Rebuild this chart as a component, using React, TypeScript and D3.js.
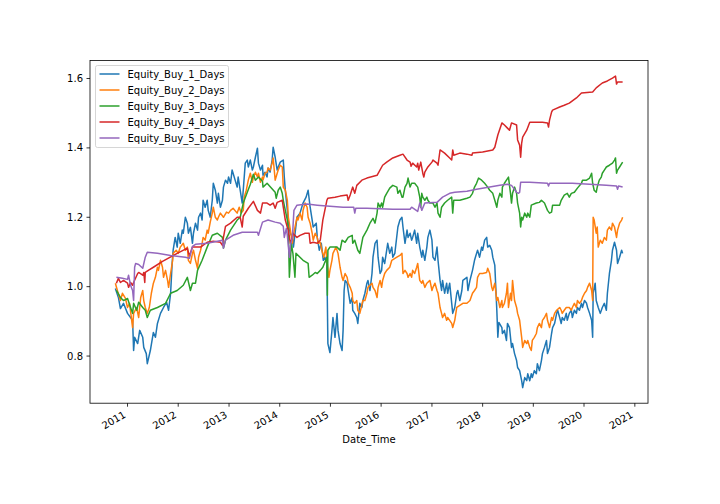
import React, { useEffect } from "react";
import * as d3 from "d3";

// [decimal year, equity]
const equityBuy1: [number, number][] = [
  [2010.76,0.995],[2010.82,0.969],[2010.86,0.937],[2010.92,0.952],[2011.00,0.923],[2011.06,0.911],[2011.10,0.903],[2011.12,0.816],[2011.14,0.854],[2011.20,0.836],[2011.24,0.874],[2011.30,0.854],[2011.32,0.825],[2011.37,0.807],[2011.39,0.778],[2011.45,0.816],[2011.51,0.868],[2011.55,0.854],[2011.59,0.894],[2011.65,0.923],[2011.71,0.940],[2011.77,0.955],[2011.81,0.932],
  [2011.85,0.981],[2011.88,1.067],[2011.90,1.105],[2011.94,1.142],[2011.98,1.114],[2012.00,1.154],[2012.04,1.125],[2012.08,1.163],[2012.10,1.154],[2012.14,1.200],[2012.18,1.183],[2012.20,1.154],[2012.24,1.171],[2012.28,1.125],[2012.30,1.154],[2012.34,1.183],[2012.38,1.163],[2012.40,1.200],[2012.44,1.212],[2012.47,1.192],[2012.49,1.249],[2012.53,1.229],[2012.57,1.249],[2012.59,1.220],[2012.63,1.200],[2012.67,1.249],[2012.69,1.298],[2012.73,1.278],[2012.77,1.241],[2012.79,1.269],[2012.83,1.229],[2012.87,1.249],[2012.89,1.287],[2012.93,1.307],[2012.97,1.298],[2012.99,1.316],[2013.03,1.298],[2013.06,1.336],[2013.08,1.327],[2013.12,1.307],[2013.16,1.287],[2013.18,1.316],
  [2013.22,1.278],[2013.26,1.241],[2013.28,1.278],[2013.32,1.356],[2013.36,1.365],[2013.38,1.345],[2013.42,1.365],[2013.46,1.336],[2013.48,1.345],[2013.52,1.373],[2013.56,1.399],[2013.58,1.356],[2013.62,1.336],[2013.66,1.350],[2013.67,1.321],[2013.71,1.330],[2013.75,1.316],[2013.77,1.342],[2013.81,1.330],[2013.85,1.365],[2013.87,1.402],[2013.91,1.373],[2013.95,1.336],[2013.97,1.345],[2014.01,1.359],[2014.07,1.365],[2014.09,1.316],[2014.11,1.278],[2014.15,1.220],[2014.17,1.183],[2014.21,1.154],[2014.25,1.142],[2014.27,1.114],[2014.34,1.200],[2014.40,1.212],[2014.46,1.241],[2014.52,1.258],[2014.56,1.278],[2014.60,1.229],[2014.64,1.192],[2014.66,1.172],[2014.72,1.183],[2014.74,1.142],[2014.78,1.105],[2014.82,1.125],[2014.86,1.076],[2014.89,1.085],[2014.93,1.067],
  [2014.95,0.836],[2014.99,0.810],[2015.03,0.874],[2015.05,0.911],[2015.09,0.854],[2015.13,0.923],[2015.15,0.874],[2015.19,0.836],[2015.23,0.816],[2015.25,0.874],[2015.27,0.989],[2015.29,1.018],[2015.33,1.010],[2015.35,0.989],[2015.39,0.952],[2015.43,0.969],[2015.44,0.932],[2015.48,0.923],[2015.52,0.911],[2015.54,0.894],[2015.58,0.952],[2015.62,0.940],[2015.64,0.960],[2015.68,0.981],[2015.72,1.010],[2015.74,1.018],[2015.78,0.989],[2015.82,1.038],[2015.84,1.085],[2015.88,1.125],[2015.92,1.134],[2015.94,1.085],[2015.98,1.038],[2016.01,1.047],[2016.03,1.085],[2016.07,1.067],[2016.11,1.105],[2016.13,1.125],[2016.17,1.096],[2016.21,1.114],[2016.23,1.085],[2016.27,1.096],[2016.33,1.172],
  [2016.37,1.192],[2016.41,1.200],[2016.43,1.172],[2016.47,1.125],[2016.51,1.163],[2016.53,1.142],[2016.57,1.154],[2016.60,1.134],[2016.62,1.142],[2016.66,1.163],[2016.70,1.125],[2016.72,1.154],[2016.76,1.114],[2016.80,1.085],[2016.82,1.105],[2016.86,1.076],[2016.90,1.114],[2016.92,1.142],[2016.96,1.163],[2017.00,1.134],[2017.02,1.085],[2017.06,1.076],[2017.10,1.114],[2017.12,1.076],[2017.16,1.018],[2017.19,0.989],[2017.21,1.018],[2017.25,0.981],[2017.29,1.010],[2017.31,0.981],[2017.35,1.010],[2017.39,0.952],[2017.41,0.923],[2017.45,0.940],[2017.49,0.981],[2017.51,0.989],[2017.55,0.960],[2017.59,0.989],[2017.61,1.018],[2017.69,1.027],[2017.71,0.989],[2017.75,1.018],[2017.80,1.047],[2017.84,1.076],[2017.88,1.096],[2017.90,1.105],[2017.94,1.085],[2017.98,1.114],[2018.00,1.105],[2018.04,1.134],[2018.08,1.142],[2018.10,1.114],[2018.14,1.119],[2018.18,1.105],[2018.20,1.085],[2018.24,1.062],[2018.28,0.932],[2018.30,0.854],[2018.32,0.897],[2018.38,0.882],[2018.39,0.865],[2018.43,0.874],[2018.47,0.845],[2018.49,0.894],[2018.53,0.882],[2018.57,0.825],[2018.59,0.836],[2018.63,0.807],[2018.67,0.787],[2018.69,0.767],[2018.73,0.758],[2018.77,0.729],[2018.79,0.709],[2018.83,0.738],[2018.87,0.729],[2018.89,0.749],[2018.93,0.729],[2018.96,0.749],[2018.98,0.738],[2019.02,0.758],[2019.06,0.749],[2019.08,0.778],[2019.12,0.758],[2019.16,0.787],[2019.18,0.807],[2019.22,0.825],[2019.26,0.845],[2019.28,0.807],[2019.32,0.825],[2019.36,0.865],[2019.38,0.882],[2019.42,0.894],[2019.46,0.923],[2019.48,0.932],[2019.52,0.911],[2019.55,0.894],[2019.57,0.911],[2019.61,0.903],[2019.65,0.923],[2019.67,0.903],[2019.71,0.923],[2019.75,0.932],[2019.77,0.911],[2019.81,0.932],[2019.85,0.923],[2019.87,0.940],[2019.91,0.932],[2019.95,0.952],[2019.97,0.940],[2020.01,0.960],[2020.05,0.952],[2020.07,0.940],[2020.11,0.923],[2020.15,0.903],[2020.17,0.854],[2020.18,0.981],[2020.22,1.010],[2020.24,0.960],[2020.28,0.940],[2020.32,0.923],[2020.36,0.940],[2020.40,0.952],[2020.44,0.932],[2020.46,0.981],[2020.50,1.038],[2020.54,1.076],[2020.56,1.105],[2020.60,1.128],[2020.64,1.105],[2020.66,1.067],[2020.70,1.085],[2020.74,1.105],[2020.76,1.096]
];

const equityBuy2: [number, number][] = [
  [2010.76,1.010],[2010.80,0.989],[2010.86,0.960],[2010.90,0.981],[2010.96,0.966],[2011.00,0.940],[2011.04,0.952],[2011.10,0.882],[2011.12,0.923],[2011.18,0.940],[2011.22,0.911],[2011.26,0.969],[2011.30,0.989],[2011.32,0.960],[2011.35,0.940],[2011.39,0.923],[2011.43,0.940],[2011.47,0.981],[2011.51,1.010],[2011.55,1.027],[2011.59,1.056],[2011.61,1.047],[2011.65,1.076],[2011.69,1.056],[2011.71,1.027],[2011.75,1.047],[2011.79,1.018],[2011.81,0.998],[2011.85,1.038],[2011.89,1.076],[2011.90,1.096],[2011.96,1.105],[2012.00,1.096],[2012.04,1.114],[2012.10,1.125],[2012.14,1.105],[2012.18,1.114],[2012.20,1.076],[2012.24,1.067],[2012.28,1.096],[2012.30,1.105],[2012.34,1.076],[2012.38,1.053],[2012.40,1.085],[2012.44,1.105],[2012.47,1.125],[2012.49,1.142],[2012.53,1.134],[2012.57,1.163],[2012.59,1.154],[2012.63,1.186],[2012.67,1.212],[2012.69,1.229],[2012.73,1.200],[2012.77,1.192],[2012.79,1.200],[2012.83,1.212],[2012.89,1.200],[2012.95,1.215],[2012.99,1.212],[2013.03,1.220],[2013.08,1.226],[2013.16,1.212],[2013.20,1.229],[2013.24,1.212],[2013.28,1.220],[2013.30,1.258],[2013.34,1.278],[2013.38,1.307],[2013.42,1.327],[2013.46,1.301],[2013.48,1.316],[2013.52,1.330],[2013.56,1.316],[2013.58,1.327],[2013.62,1.301],[2013.66,1.316],[2013.67,1.307],[2013.71,1.327],[2013.75,1.330],[2013.77,1.342],[2013.81,1.336],[2013.85,1.356],[2013.87,1.371],[2013.91,1.307],[2013.95,1.327],[2013.97,1.336],[2014.01,1.350],[2014.05,1.345],[2014.07,1.287],[2014.11,1.278],[2014.15,1.249],[2014.17,1.200],[2014.21,1.163],[2014.25,1.125],[2014.26,1.142],[2014.30,1.171],[2014.34,1.200],[2014.36,1.192],[2014.40,1.212],[2014.44,1.192],[2014.46,1.220],[2014.50,1.241],[2014.54,1.229],[2014.56,1.200],[2014.60,1.183],[2014.64,1.154],[2014.66,1.134],[2014.70,1.154],[2014.74,1.142],[2014.76,1.125],[2014.80,1.128],[2014.83,1.105],[2014.87,1.085],[2014.91,1.114],[2014.93,1.076],[2014.97,1.027],[2014.99,1.047],[2015.03,1.076],[2015.05,1.096],[2015.11,1.114],[2015.15,1.096],[2015.19,1.056],[2015.23,1.027],[2015.25,1.018],[2015.29,1.038],[2015.33,1.027],[2015.35,1.010],[2015.39,0.998],[2015.43,0.981],[2015.44,0.960],[2015.48,0.952],[2015.52,0.960],[2015.54,0.932],[2015.58,0.923],[2015.64,0.960],[2015.68,0.960],[2015.72,0.981],[2015.74,0.998],[2015.82,1.010],[2015.84,0.998],[2015.88,0.989],[2015.92,0.969],[2015.94,0.998],[2015.98,1.018],[2016.01,0.998],[2016.03,1.018],[2016.07,1.038],[2016.11,1.047],[2016.17,1.056],[2016.21,1.076],[2016.31,1.085],[2016.37,1.090],[2016.41,1.096],[2016.43,1.038],[2016.47,1.047],[2016.51,1.038],[2016.53,1.027],[2016.57,1.038],[2016.60,1.027],[2016.62,1.047],[2016.66,1.038],[2016.70,1.056],[2016.72,1.067],[2016.76,1.018],[2016.80,1.010],[2016.82,1.018],[2016.86,0.998],[2016.90,1.010],[2016.96,1.018],[2017.00,0.989],[2017.02,0.998],[2017.06,1.010],[2017.10,0.989],[2017.12,0.981],[2017.16,0.940],[2017.19,0.923],[2017.21,0.911],[2017.25,0.923],[2017.29,0.903],[2017.31,0.911],[2017.35,0.903],[2017.39,0.894],[2017.41,0.882],[2017.45,0.903],[2017.49,0.940],[2017.55,0.946],[2017.61,0.952],[2017.69,0.952],[2017.75,0.960],[2017.80,0.981],[2017.84,0.989],[2017.88,0.998],[2017.90,1.027],[2017.94,1.038],[2018.00,1.038],[2018.08,1.041],[2018.10,1.053],[2018.14,1.038],[2018.18,0.998],[2018.20,0.989],[2018.24,1.010],[2018.28,0.960],[2018.30,0.969],[2018.34,0.940],[2018.38,0.960],[2018.39,0.940],[2018.43,0.952],[2018.47,0.981],[2018.49,1.010],[2018.51,0.940],[2018.55,0.981],[2018.57,0.960],[2018.59,1.018],[2018.63,0.960],[2018.67,0.940],[2018.69,0.923],[2018.73,0.903],[2018.77,0.854],[2018.79,0.825],[2018.83,0.845],[2018.87,0.836],[2018.89,0.845],[2018.93,0.825],[2018.96,0.816],[2018.98,0.845],[2019.02,0.854],[2019.06,0.865],[2019.08,0.882],[2019.12,0.894],[2019.16,0.882],[2019.18,0.903],[2019.22,0.911],[2019.26,0.923],[2019.28,0.903],[2019.32,0.882],[2019.36,0.911],[2019.38,0.903],[2019.42,0.923],[2019.46,0.932],[2019.52,0.940],[2019.55,0.932],[2019.57,0.923],[2019.61,0.932],[2019.65,0.940],[2019.71,0.940],[2019.75,0.932],[2019.77,0.940],[2019.81,0.952],[2019.85,0.940],[2019.87,0.960],[2019.91,0.952],[2019.95,0.960],[2019.97,0.969],[2020.01,0.981],[2020.05,0.989],[2020.07,0.998],[2020.11,1.010],[2020.15,0.989],[2020.17,0.960],[2020.18,1.200],[2020.20,1.192],[2020.24,1.154],[2020.26,1.172],[2020.28,1.114],[2020.32,1.134],[2020.36,1.125],[2020.40,1.142],[2020.44,1.134],[2020.46,1.163],[2020.50,1.172],[2020.54,1.163],[2020.56,1.183],[2020.60,1.172],[2020.64,1.142],[2020.66,1.163],[2020.70,1.183],[2020.74,1.192],[2020.76,1.200]
];

const equityBuy3: [number, number][] = [
  [2010.78,0.989],[2010.86,0.969],[2010.92,0.960],[2011.00,0.966],[2011.06,0.940],[2011.10,0.923],[2011.12,0.952],[2011.18,0.932],[2011.22,0.955],[2011.30,0.940],[2011.35,0.932],[2011.39,0.911],[2011.45,0.932],[2011.59,0.940],[2011.75,0.952],[2011.85,0.981],[2011.98,0.989],[2012.10,1.004],[2012.18,1.027],[2012.24,0.989],[2012.28,1.010],[2012.34,1.010],[2012.38,1.047],[2012.47,1.076],[2012.57,1.114],[2012.67,1.148],[2012.77,1.154],[2012.87,1.142],[2012.89,1.111],[2012.93,1.134],[2013.03,1.163],[2013.16,1.192],[2013.22,1.200],[2013.28,1.241],[2013.36,1.272],[2013.42,1.295],[2013.48,1.324],[2013.52,1.307],[2013.58,1.316],[2013.66,1.304],[2013.67,1.287],[2013.75,1.298],[2013.91,1.272],[2013.93,1.255],[2013.97,1.278],[2014.01,1.287],[2014.05,1.269],[2014.07,1.249],[2014.11,1.220],[2014.15,1.192],[2014.17,1.163],[2014.19,1.027],[2014.23,1.125],[2014.25,1.105],[2014.26,1.096],[2014.30,1.027],[2014.32,1.096],[2014.46,1.076],[2014.56,1.067],[2014.58,1.027],[2014.64,1.033],[2014.70,1.041],[2014.74,1.038],[2014.80,1.047],[2014.85,1.056],[2014.93,1.085],[2014.94,0.975],[2014.95,1.105],[2014.99,1.114],[2015.13,1.114],[2015.19,1.105],[2015.23,1.134],[2015.29,1.128],[2015.35,1.142],[2015.43,1.148],[2015.44,1.125],[2015.48,1.134],[2015.54,1.105],[2015.58,1.096],[2015.64,1.142],[2015.72,1.163],[2015.78,1.183],[2015.84,1.197],[2015.88,1.183],[2015.92,1.212],[2015.94,1.241],[2015.98,1.229],[2016.01,1.241],[2016.03,1.229],[2016.07,1.258],[2016.11,1.269],[2016.17,1.284],[2016.23,1.292],[2016.31,1.287],[2016.33,1.269],[2016.37,1.278],[2016.41,1.258],[2016.43,1.258],[2016.47,1.287],[2016.51,1.298],[2016.53,1.313],[2016.57,1.287],[2016.60,1.298],[2016.66,1.298],[2016.72,1.287],[2016.76,1.258],[2016.78,1.229],[2016.80,1.269],[2016.82,1.258],[2016.86,1.249],[2016.90,1.258],[2016.92,1.249],[2016.96,1.241],[2017.02,1.241],[2017.06,1.229],[2017.10,1.241],[2017.12,1.212],[2017.16,1.200],[2017.19,1.229],[2017.25,1.241],[2017.31,1.249],[2017.39,1.258],[2017.41,1.212],[2017.43,1.249],[2017.55,1.249],[2017.69,1.255],[2017.75,1.258],[2017.80,1.269],[2017.84,1.287],[2017.88,1.298],[2017.92,1.313],[2017.98,1.307],[2018.04,1.298],[2018.10,1.287],[2018.14,1.278],[2018.20,1.269],[2018.24,1.249],[2018.28,1.229],[2018.30,1.249],[2018.34,1.269],[2018.38,1.258],[2018.39,1.287],[2018.43,1.298],[2018.47,1.307],[2018.51,1.316],[2018.55,1.269],[2018.57,1.241],[2018.59,1.269],[2018.63,1.287],[2018.67,1.269],[2018.69,1.241],[2018.73,1.212],[2018.75,1.172],[2018.77,1.200],[2018.79,1.192],[2018.83,1.212],[2018.87,1.200],[2018.89,1.212],[2018.93,1.200],[2018.96,1.235],[2019.06,1.241],[2019.12,1.243],[2019.16,1.249],[2019.22,1.241],[2019.28,1.220],[2019.32,1.212],[2019.36,1.215],[2019.38,1.235],[2019.52,1.235],[2019.55,1.249],[2019.61,1.264],[2019.67,1.269],[2019.71,1.258],[2019.75,1.269],[2019.81,1.272],[2019.87,1.284],[2019.95,1.298],[2019.97,1.307],[2020.05,1.307],[2020.11,1.313],[2020.15,1.327],[2020.17,1.298],[2020.20,1.278],[2020.24,1.272],[2020.26,1.287],[2020.30,1.307],[2020.34,1.316],[2020.36,1.327],[2020.40,1.336],[2020.44,1.345],[2020.50,1.350],[2020.56,1.356],[2020.60,1.365],[2020.62,1.371],[2020.64,1.327],[2020.66,1.336],[2020.70,1.345],[2020.76,1.359]
];

const equityBuy4: [number, number][] = [
  [2010.78,1.010],[2010.82,1.024],[2010.86,1.012],[2010.92,1.018],[2011.00,1.010],[2011.02,0.998],[2011.06,1.012],[2011.10,1.004],[2011.12,1.012],[2011.20,1.038],[2011.22,1.041],[2011.30,1.033],[2011.32,1.041],[2011.34,1.012],[2011.35,1.041],[2011.41,1.047],[2011.51,1.056],[2011.69,1.073],[2011.98,1.096],[2012.18,1.111],[2012.22,1.088],[2012.28,1.114],[2012.38,1.114],[2012.44,1.114],[2012.57,1.128],[2012.69,1.131],[2012.83,1.128],[2012.87,1.119],[2012.89,1.142],[2012.93,1.174],[2013.03,1.183],[2013.16,1.200],[2013.22,1.200],[2013.26,1.172],[2013.28,1.203],[2013.38,1.226],[2013.48,1.246],[2013.56,1.220],[2013.62,1.212],[2013.66,1.241],[2013.75,1.241],[2013.81,1.235],[2013.87,1.241],[2013.91,1.226],[2013.95,1.243],[2014.05,1.249],[2014.07,1.229],[2014.11,1.192],[2014.15,1.171],[2014.17,1.163],[2014.21,1.125],[2014.25,1.142],[2014.26,1.154],[2014.34,1.142],[2014.40,1.148],[2014.50,1.154],[2014.58,1.154],[2014.60,1.125],[2014.66,1.128],[2014.74,1.125],[2014.80,1.134],[2014.85,1.192],[2014.93,1.249],[2014.95,1.255],[2015.09,1.258],[2015.19,1.261],[2015.33,1.264],[2015.35,1.249],[2015.39,1.264],[2015.44,1.287],[2015.48,1.269],[2015.52,1.292],[2015.62,1.307],[2015.72,1.313],[2015.92,1.321],[2016.03,1.350],[2016.11,1.359],[2016.23,1.371],[2016.37,1.379],[2016.43,1.382],[2016.51,1.365],[2016.57,1.359],[2016.59,1.347],[2016.62,1.356],[2016.70,1.345],[2016.72,1.356],[2016.74,1.336],[2016.78,1.359],[2016.82,1.327],[2016.84,1.316],[2016.86,1.330],[2016.92,1.345],[2017.00,1.359],[2017.02,1.365],[2017.10,1.356],[2017.12,1.350],[2017.16,1.394],[2017.25,1.385],[2017.35,1.371],[2017.39,1.365],[2017.41,1.394],[2017.43,1.379],[2017.55,1.385],[2017.69,1.382],[2017.79,1.379],[2017.80,1.385],[2018.00,1.388],[2018.20,1.394],[2018.24,1.402],[2018.30,1.437],[2018.38,1.472],[2018.43,1.466],[2018.49,1.457],[2018.53,1.451],[2018.57,1.472],[2018.67,1.466],[2018.69,1.423],[2018.73,1.408],[2018.75,1.373],[2018.77,1.414],[2018.79,1.431],[2018.87,1.451],[2018.93,1.474],[2019.18,1.474],[2019.28,1.472],[2019.30,1.460],[2019.32,1.480],[2019.36,1.503],[2019.38,1.509],[2019.52,1.518],[2019.61,1.523],[2019.71,1.529],[2019.85,1.544],[2019.95,1.558],[2020.17,1.561],[2020.24,1.573],[2020.36,1.587],[2020.46,1.593],[2020.56,1.601],[2020.62,1.607],[2020.64,1.584],[2020.66,1.590],[2020.76,1.590]
];

const equityBuy5: [number, number][] = [
  [2010.78,1.027],[2010.90,1.024],[2011.00,1.021],[2011.02,1.033],[2011.06,1.004],[2011.10,0.989],[2011.12,0.960],[2011.14,1.056],[2011.16,1.067],[2011.22,1.064],[2011.30,1.053],[2011.35,1.085],[2011.39,1.099],[2011.59,1.096],[2011.85,1.090],[2012.14,1.085],[2012.22,1.082],[2012.28,1.116],[2012.34,1.122],[2012.57,1.125],[2012.87,1.134],[2012.89,1.111],[2012.93,1.134],[2013.08,1.148],[2013.26,1.157],[2013.56,1.157],[2013.58,1.148],[2013.66,1.186],[2013.77,1.192],[2013.91,1.186],[2014.01,1.183],[2014.07,1.174],[2014.09,1.142],[2014.13,1.168],[2014.15,1.148],[2014.19,1.085],[2014.21,1.119],[2014.25,1.142],[2014.28,1.220],[2014.34,1.235],[2014.54,1.238],[2014.74,1.235],[2014.99,1.232],[2015.25,1.229],[2015.46,1.229],[2015.48,1.212],[2015.50,1.226],[2015.72,1.226],[2016.23,1.223],[2016.57,1.223],[2016.60,1.229],[2016.72,1.217],[2016.76,1.241],[2016.80,1.220],[2016.86,1.241],[2017.10,1.243],[2017.21,1.258],[2017.35,1.269],[2017.45,1.272],[2017.69,1.275],[2017.88,1.281],[2018.14,1.287],[2018.34,1.292],[2018.49,1.295],[2018.57,1.292],[2018.67,1.272],[2018.71,1.269],[2018.73,1.272],[2018.75,1.301],[2018.93,1.301],[2019.28,1.298],[2019.30,1.290],[2019.32,1.298],[2019.77,1.298],[2020.11,1.295],[2020.44,1.292],[2020.64,1.290],[2020.66,1.281],[2020.68,1.290],[2020.76,1.287]
];

const seriesNames = ["Equity_Buy_1_Days", "Equity_Buy_2_Days", "Equity_Buy_3_Days", "Equity_Buy_4_Days", "Equity_Buy_5_Days"];
const seriesColors = ["#1f77b4", "#ff7f0e", "#2ca02c", "#d62728", "#9467bd"];
const allSeries = [equityBuy1, equityBuy2, equityBuy3, equityBuy4, equityBuy5];
const xTickYears = [2011, 2012, 2013, 2014, 2015, 2016, 2017, 2018, 2019, 2020, 2021];
const yTicks = [0.8, 1.0, 1.2, 1.4, 1.6];
const xLabel = "Date_Time";

function toDate(y: number): Date {
  const yr = Math.floor(y);
  const s = new Date(yr, 0, 1).getTime();
  const e = new Date(yr + 1, 0, 1).getTime();
  return new Date(s + (y - yr) * (e - s));
}

const W = 720, H = 504;
const L = 90, R = 648, T = 60.5, B = 403.2;
const FONT = "DejaVu Sans, sans-serif";

export default function App() {
  useEffect(() => {
    document.body.style.margin = "0";
  }, []);

  const allPts = allSeries.flat();
  const [x0, x1] = d3.extent(allPts, (d) => toDate(d[0]).getTime()) as [number, number];
  const [y0, y1] = d3.extent(allPts, (d) => d[1]) as [number, number];
  const xp = (x1 - x0) * 0.05;
  const yp = (y1 - y0) * 0.05;
  const x = d3.scaleTime().domain([new Date(x0 - xp), new Date(x1 + xp)]).range([L, R]);
  const y = d3.scaleLinear().domain([y0 - yp, y1 + yp]).range([B, T]);
  const line = d3
    .line<[number, number]>()
    .x((d) => x(toDate(d[0])))
    .y((d) => y(d[1]));

  return (
    <svg width={W} height={H} style={{ display: "block", background: "#fff" }} fontFamily={FONT}>
      <rect x={0} y={0} width={W} height={H} fill="#fff" />
      <g>
        {allSeries.map((s, i) => (
          <path key={i} d={line(s) || ""} fill="none" stroke={seriesColors[i]} strokeWidth={1.5} strokeLinejoin="round" />
        ))}
      </g>
      <rect x={L} y={T} width={R - L} height={B - T} fill="none" stroke="#000" strokeWidth={0.8} />
      {xTickYears.map((yr) => {
        const tx = x(new Date(yr, 0, 1));
        return (
          <g key={yr}>
            <line x1={tx} x2={tx} y1={B} y2={B + 3.5} stroke="#000" strokeWidth={0.8} />
            <text
              x={0}
              y={0}
              transform={`translate(${tx - 1},${B + 13.5}) rotate(-30)`}
              textAnchor="end"
              fontSize={10}
              fill="#000"
            >
              {yr}
            </text>
          </g>
        );
      })}
      {yTicks.map((v) => {
        const ty = y(v);
        return (
          <g key={v}>
            <line x1={L - 3.5} x2={L} y1={ty} y2={ty} stroke="#000" strokeWidth={0.8} />
            <text x={L - 7} y={ty} dy="0.35em" textAnchor="end" fontSize={10} fill="#000">
              {v.toFixed(1)}
            </text>
          </g>
        );
      })}
      <text x={(L + R) / 2} y={443} textAnchor="middle" fontSize={10} fill="#000">
        {xLabel}
      </text>
      <g>
        <rect x={95.5} y={65.5} width={133} height={82} rx={2} fill="#fff" fillOpacity={0.8} stroke="#ccc" strokeOpacity={0.8} strokeWidth={1} />
        {seriesNames.map((n, i) => {
          const cy = 74 + i * 16;
          return (
            <g key={n}>
              <line x1={99.5} x2={119.5} y1={cy} y2={cy} stroke={seriesColors[i]} strokeWidth={1.5} />
              <text x={127.5} y={cy} dy="0.35em" fontSize={10} fill="#000">
                {n}
              </text>
            </g>
          );
        })}
      </g>
    </svg>
  );
}
